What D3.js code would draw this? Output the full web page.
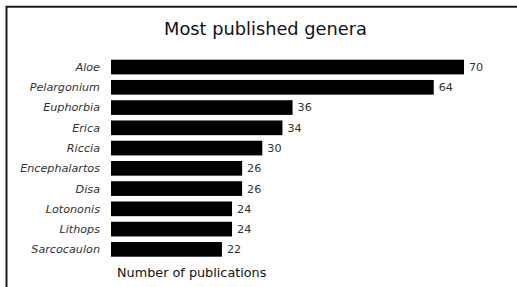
<!DOCTYPE html>
<html>
<head>
<meta charset="utf-8">
<script src="https://cdn.jsdelivr.net/npm/d3@7"></script>
<style>
  html, body { margin: 0; padding: 0; background: #fff; }
  svg { display: block; }
</style>
</head>
<body>
<div id="chart"></div>
<script>
const genera = ["Aloe", "Pelargonium", "Euphorbia", "Erica", "Riccia", "Encephalartos", "Disa", "Lotononis", "Lithops", "Sarcocaulon"];
const publications = [70, 64, 36, 34, 30, 26, 26, 24, 24, 22];

const W = 517, H = 287;
const fontFamily = "'DejaVu Sans', Verdana, sans-serif";

const svg = d3.select("#chart")
    .append("svg")
    .attr("width", W)
    .attr("height", H);

// frame: top and left edges only
svg.append("path")
    .attr("d", "M6.5,290 L6.5,6.8 L520,6.8")
    .attr("fill", "none")
    .attr("stroke", "#1a1a1a")
    .attr("stroke-width", 2);

const x = d3.scaleLinear()
    .domain([0, 70])
    .range([111, 464]);

const y = d3.scaleBand()
    .domain(genera)
    .range([59.7, 256.7])
    .paddingInner(0.275)
    .paddingOuter(0);

const data = genera.map((g, i) => ({ key: g, value: publications[i] }));

svg.append("text")
    .attr("x", 265.5)
    .attr("y", 35)
    .attr("text-anchor", "middle")
    .style("font-family", fontFamily)
    .style("font-size", "17.8px")
    .style("fill", "#111")
    .text("Most published genera");

svg.selectAll("rect.bar")
    .data(data)
    .enter()
    .append("rect")
    .attr("class", "bar")
    .attr("x", x(0))
    .attr("y", d => y(d.key))
    .attr("width", d => x(d.value) - x(0))
    .attr("height", y.bandwidth())
    .style("fill", "#000");

// genus labels
svg.selectAll("text.label")
    .data(data)
    .enter()
    .append("text")
    .attr("class", "label")
    .attr("x", 100)
    .attr("y", d => y(d.key) + y.bandwidth() / 2)
    .attr("dy", "0.35em")
    .attr("text-anchor", "end")
    .style("font-family", fontFamily)
    .style("font-size", "11.2px")
    .style("font-style", "italic")
    .style("fill", "#333")
    .text(d => d.key);

// value labels
svg.selectAll("text.value")
    .data(data)
    .enter()
    .append("text")
    .attr("class", "value")
    .attr("x", d => x(d.value) + 5)
    .attr("y", d => y(d.key) + y.bandwidth() / 2)
    .attr("dy", "0.35em")
    .style("font-family", fontFamily)
    .style("font-size", "11.2px")
    .style("fill", "#333")
    .text(d => d.value);

// axis title
svg.append("text")
    .attr("x", 117)
    .attr("y", 277)
    .style("font-family", fontFamily)
    .style("font-size", "12.8px")
    .style("fill", "#111")
    .text("Number of publications");
</script>
</body>
</html>
